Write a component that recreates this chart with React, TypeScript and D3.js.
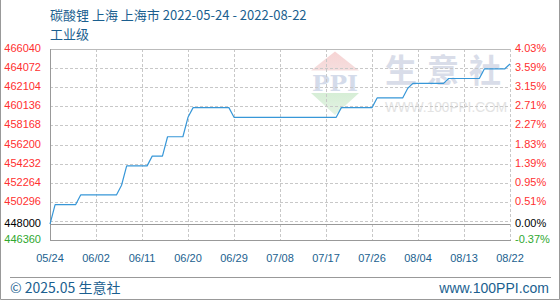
import React from 'react';
import * as d3 from 'd3';

// 碳酸锂 (工业级) 上海市 daily price, 2022-05-24 .. 2022-08-22
const startDate = '2022-05-24';
const endDate = '2022-08-22';

const priceMay = [448000, 450000, 450000, 450000, 450000, 450000, 451000, 451000];
const priceJun = [
  451000, 451000, 451000, 451000, 451000, 451000, 452000, 454000, 454000, 454000,
  454000, 454000, 455000, 455000, 455000, 457000, 457000, 457000, 457000, 459000,
  460000, 460000, 460000, 460000, 460000, 460000, 460000, 460000, 459000, 459000,
];
const priceJul = [
  459000, 459000, 459000, 459000, 459000, 459000, 459000, 459000, 459000, 459000,
  459000, 459000, 459000, 459000, 459000, 459000, 459000, 459000, 459000, 460000,
  460000, 460000, 460000, 460000, 460000, 460000, 461000, 461000, 461000, 461000,
  461000,
];
const priceAug = [
  461000, 462000, 462500, 462500, 462500, 462500, 462500, 462500, 462500, 463000,
  463000, 463000, 463000, 463000, 463000, 463000, 464000, 464000, 464000, 464000,
  464000, 464500,
];
const prices = [...priceMay, ...priceJun, ...priceJul, ...priceAug];

const baseValue = 448000;
const gridValues = [466040, 464072, 462104, 460136, 458168, 456200, 454232, 452264, 450296, 448328, 446360];
const axisLabelValues = [466040, 464072, 462104, 460136, 458168, 456200, 454232, 452264, 450296, 448000, 446360];
const xTickLabels = ['05/24', '06/02', '06/11', '06/20', '06/29', '07/08', '07/17', '07/26', '08/04', '08/13', '08/22'];

const titleText = '碳酸锂 上海 上海市 2022-05-24 - 2022-08-22';
const subTitleText = '工业级';
const footerLeft = '© 2025.05 生意社';
const footerRight = 'www.100PPI.com';

const W = 560;
const H = 300;
const plot = { left: 50, right: 510, top: 49, bottom: 240 };

const blue = '#1b5f8f';
const labelFont = '"Liberation Sans", Arial, sans-serif';
const cjkFont = '"Noto Sans CJK SC", "Noto Sans", sans-serif';

const colorFor = (v: number) => (v > baseValue ? '#ff3030' : v < baseValue ? '#2fa82f' : '#000');
const pct = (v: number) => ((v / baseValue - 1) * 100).toFixed(2) + '%';
const crisp = (n: number) => Math.round(n) + 0.5;

export default function App() {
  const parse = d3.utcParse('%Y-%m-%d');
  const start = parse(startDate) as Date;
  const end = parse(endDate) as Date;
  const dates = d3.utcDay.range(start, d3.utcDay.offset(start, prices.length));
  const series = prices.map((v, i) => ({ date: dates[i], value: v }));

  const x = d3.scaleTime().domain([start, end]).range([plot.left, plot.right]);
  const y = d3.scaleLinear().domain([446360, 466040]).range([plot.bottom, plot.top]);

  const tickDates = xTickLabels.map((s) => parse('2022-' + s.replace('/', '-')) as Date);

  const line = d3
    .line<{ date: Date; value: number }>()
    .x((d) => x(d.date))
    .y((d) => y(d.value))
    .curve(d3.curveLinear);

  // watermark geometry
  const wmX = 335;
  const roof = `${wmX},51.5 ${wmX - 24},70.5 ${wmX + 24},70.5`;
  const funnel = `${wmX - 24},93 ${wmX + 24},93 ${wmX},115`;

  return (
    <svg
      width={W}
      height={H}
      style={{ position: 'absolute', left: 0, top: 0, background: '#fff' }}
    >
      <rect x={0} y={0} width={W} height={H} fill="#fff" />
      {/* outer frame */}
      <path d={`M0.5,0 V${H - 0.5} H${W - 0.5} V0`} fill="none" stroke="#999" />

      {/* titles */}
      <text x={50} y={19.5} fontFamily={cjkFont} fontSize={13} fill={blue}>
        {titleText}
      </text>
      <text x={50} y={38.5} fontFamily={cjkFont} fontSize={13} fill={blue}>
        {subTitleText}
      </text>

      {/* watermark */}
      <g>
        <defs>
          <linearGradient id="roofGrad" x1="0" y1="0" x2="0" y2="1">
            <stop offset="0" stopColor="#f7d4d4" />
            <stop offset="1" stopColor="#f5dede" />
          </linearGradient>
          <linearGradient id="funnelGrad" x1="0" y1="0" x2="0" y2="1">
            <stop offset="0" stopColor="#d6eed6" />
            <stop offset="1" stopColor="#e4f3e4" />
          </linearGradient>
        </defs>
        <polygon points={roof} fill="url(#roofGrad)" />
        <polygon points={funnel} fill="url(#funnelGrad)" />
        <text
          x={wmX}
          y={90.5}
          textAnchor="middle"
          fontFamily='"DejaVu Serif", "Liberation Serif", serif'
          fontWeight="bold"
          fontSize={23}
          textLength={46}
          lengthAdjust="spacingAndGlyphs"
          fill="#d4dbea"
        >
          PPI
        </text>
        <text
          x={385}
          y={82}
          fontFamily={cjkFont}
          fontWeight="bold"
          fontSize={32}
          letterSpacing={10}
          fill="#d9dde9"
        >
          生意社
        </text>
        <text
          x={385}
          y={111.5}
          fontFamily={labelFont}
          fontSize={14}
          textLength={122}
          lengthAdjust="spacingAndGlyphs"
          fill="#e3e3e3"
        >
          WWW.100PPI.COM
        </text>
      </g>

      {/* grid */}
      <g stroke="#c8c8c8" strokeDasharray="3,2" fill="none">
        {gridValues.slice(1).map((v) => (
          <line key={'h' + v} x1={plot.left} x2={plot.right} y1={crisp(y(v))} y2={crisp(y(v))} />
        ))}
        {tickDates.slice(1).map((d, i) => (
          <line key={'v' + i} x1={crisp(x(d))} x2={crisp(x(d))} y1={plot.top} y2={plot.bottom} />
        ))}
      </g>

      {/* plot frame */}
      <line x1={plot.left} x2={plot.right} y1={crisp(plot.top)} y2={crisp(plot.top)} stroke="#bbb" />
      <line x1={crisp(plot.left)} x2={crisp(plot.left)} y1={plot.top} y2={plot.bottom + 0.5} stroke="#999" />
      <line x1={plot.left} x2={plot.right + 1} y1={crisp(plot.bottom)} y2={crisp(plot.bottom)} stroke="#999" />
      <line x1={plot.left} x2={plot.right} y1={crisp(y(baseValue))} y2={crisp(y(baseValue))} stroke="#999" />

      {/* price line */}
      <path d={line(series) ?? ''} fill="none" stroke="#3797d8" strokeWidth={1.2} strokeLinejoin="round" />

      {/* left axis: price */}
      <g fontFamily={labelFont} fontSize={11}>
        {axisLabelValues.map((v) => (
          <text key={'l' + v} x={41} y={y(v) + 3} textAnchor="end" fill={colorFor(v)}>
            {v}
          </text>
        ))}
        {/* right axis: change vs first day */}
        {axisLabelValues.map((v) => (
          <text key={'r' + v} x={515} y={y(v) + 3} textAnchor="start" fill={colorFor(v)}>
            {pct(v)}
          </text>
        ))}
        {/* x axis */}
        {tickDates.map((d, i) => (
          <text key={'x' + i} x={x(d)} y={262} textAnchor="middle" fill={blue}>
            {xTickLabels[i]}
          </text>
        ))}
      </g>

      {/* footer */}
      <line x1={10} x2={551} y1={277.5} y2={277.5} stroke="#999" />
      <text x={10} y={293} fontFamily={cjkFont} fontSize={14} fill={blue}>
        {footerLeft}
      </text>
      <text x={549} y={293} textAnchor="end" fontFamily={labelFont} fontSize={14} fill={blue}>
        {footerRight}
      </text>
    </svg>
  );
}
